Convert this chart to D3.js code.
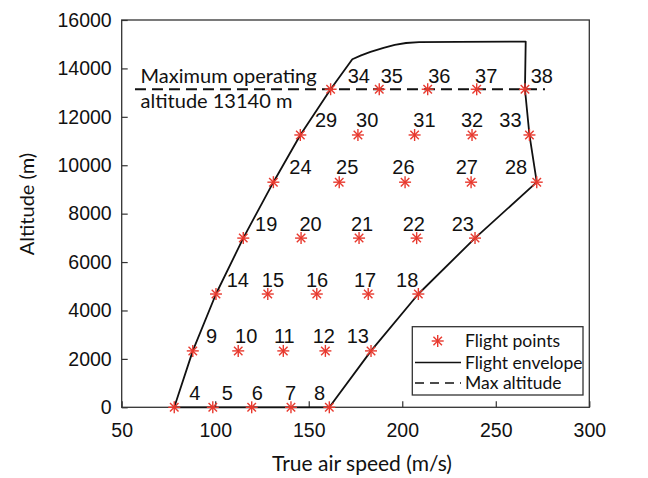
<!DOCTYPE html>
<html>
<head>
<meta charset="utf-8">
<script src="https://cdn.jsdelivr.net/npm/d3@7"></script>
<style>
  body { margin: 0; background: #fff; }
  svg { display: block; }
</style>
</head>
<body>
<svg id="chart" width="648" height="478"></svg>
<script>
// ---------------- data ----------------
const xTicks = [50, 100, 150, 200, 250, 300];
const yTicks = [0, 2000, 4000, 6000, 8000, 10000, 12000, 14000, 16000];

const pointLabels = ["4","5","6","7","8","9","10","11","12","13","14","15","16","17","18",
  "19","20","21","22","23","24","25","26","27","28","29","30","31","32","33","34","35","36","37","38"];
const pointSpeed = [
  78.1, 98.7, 119.5, 140.5, 161.0,
  88.0, 112.3, 136.4, 158.9, 183.3,
  100.4, 128.1, 154.3, 181.8, 208.6,
  115.0, 145.9, 176.9, 207.7, 238.9,
  131.1, 166.3, 201.5, 236.8, 271.9,
  145.5, 176.3, 206.6, 237.3, 268.0,
  161.7, 187.7, 213.6, 239.8, 265.6];
const pointAltitude = [
  0, 0, 0, 0, 0,
  2330, 2330, 2330, 2330, 2330,
  4680, 4680, 4680, 4680, 4680,
  6990, 6990, 6990, 6990, 6990,
  9300, 9300, 9300, 9300, 9300,
  11250, 11250, 11250, 11250, 11250,
  13140, 13140, 13140, 13140, 13140];
// where each number label sits (left edge speed, baseline altitude)
const labelSpeed = [
  86.1, 103.5, 119.5, 137.3, 152.8,
  95.1, 110.6, 131.4, 152.1, 170.3,
  106.1, 124.9, 148.5, 174.2, 196.7,
  121.3, 145.0, 172.6, 200.2, 226.4,
  139.6, 164.6, 194.7, 228.6, 254.9,
  153.3, 175.3, 205.9, 231.4, 251.9,
  170.8, 188.5, 213.9, 238.9, 268.7];
const labelAltitude = [
  302, 302, 302, 302, 302,
  2644, 2644, 2644, 2644, 2644,
  4957, 4957, 4957, 4957, 4957,
  7283, 7283, 7283, 7283, 7283,
  9638, 9638, 9638, 9638, 9638,
  11592, 11592, 11592, 11592, 11592,
  13385, 13385, 13385, 13385, 13385];

const envelopeSpeed = [78.1, 88.0, 100.4, 115.0, 131.1, 145.5, 161.7, 173.3, 178, 183, 190, 196, 202, 209, 230, 266,
  265.6, 268.0, 271.9, 238.9, 208.6, 183.3, 161.0, 78.1];
const envelopeAltitude = [0, 2330, 4680, 6990, 9300, 11250, 13140, 14380, 14540, 14680, 14850, 14970, 15050, 15090, 15100, 15110,
  13140, 11250, 9300, 6990, 4680, 2330, 0, 0];

const maxAltitude = 13140;
const maxAltitudeSpeedRange = [57.1, 276.3];
const annotationLines = ["Maximum operating", "altitude 13140 m"];
const annotationSpeed = 60.1;
const annotationAltitude = [13385, 12352];

const legendItems = ["Flight points", "Flight envelope", "Max altitude"];
const xTitle = "True air speed (m/s)";
const yTitle = "Altitude (m)";

// ---------------- drawing ----------------
const svg = d3.select("#chart");
const L = 121.7, R = 589.3, T = 20, B = 407.3;
const x = d3.scaleLinear().domain([50, 300]).range([L, R]);
const y = d3.scaleLinear().domain([0, 16000]).range([B, T]);

const red = "#e8392e";
const axisColor = "#333";
const sansCal = "Lato, 'Open Sans', sans-serif";
const sansAr = "'Liberation Sans', Arial, sans-serif";

// axes
const gx = svg.append("g").attr("transform", `translate(0,${B})`)
  .call(d3.axisBottom(x).tickValues(xTicks).tickSizeInner(-6).tickSizeOuter(0).tickPadding(16).tickFormat(d3.format("d")));
const gy = svg.append("g").attr("transform", `translate(${L},0)`)
  .call(d3.axisLeft(y).tickValues(yTicks).tickSizeInner(-6).tickSizeOuter(0).tickPadding(10).tickFormat(d3.format("d")));
[gx, gy].forEach(g => {
  g.select(".domain").remove();
  g.selectAll("line").attr("stroke", axisColor).attr("stroke-width", 1.2);
  g.selectAll("text").attr("fill", "#111").style("font-family", sansAr).style("font-size", "19.5px");
});
gx.selectAll("text").attr("dy", "0.71em");

// frame
svg.append("rect").attr("x", L).attr("y", T).attr("width", R - L).attr("height", B - T)
  .attr("fill", "none").attr("stroke", axisColor).attr("stroke-width", 1.3);

// max altitude dashed line
svg.append("line")
  .attr("x1", x(maxAltitudeSpeedRange[0])).attr("x2", x(maxAltitudeSpeedRange[1]))
  .attr("y1", y(maxAltitude)).attr("y2", y(maxAltitude))
  .attr("stroke", "#111").attr("stroke-width", 1.8).attr("stroke-dasharray", "11,6");

// envelope
const env = envelopeSpeed.map((s, i) => [s, envelopeAltitude[i]]);
svg.append("path")
  .attr("d", d3.line().x(d => x(d[0])).y(d => y(d[1]))(env))
  .attr("fill", "none").attr("stroke", "#111").attr("stroke-width", 1.8).attr("stroke-linejoin", "round");

// star marker
function star(g, cx, cy, r) {
  const angles = [0, 45, 90, 135];
  angles.forEach(a => {
    const rad = a * Math.PI / 180;
    g.append("line")
      .attr("x1", cx - r * Math.cos(rad)).attr("y1", cy - r * Math.sin(rad))
      .attr("x2", cx + r * Math.cos(rad)).attr("y2", cy + r * Math.sin(rad))
      .attr("stroke", red).attr("stroke-width", 1.4);
  });
}
const ptsG = svg.append("g");
pointSpeed.forEach((s, i) => star(ptsG, x(s), y(pointAltitude[i]), 6));

// number labels
svg.append("g").selectAll("text").data(pointLabels).join("text")
  .attr("x", (d, i) => x(labelSpeed[i]))
  .attr("y", (d, i) => y(labelAltitude[i]))
  .text(d => d)
  .attr("fill", "#111").style("font-family", sansAr).style("font-size", "20px");

// annotation
annotationLines.forEach((t, i) => {
  svg.append("text").attr("x", x(annotationSpeed)).attr("y", y(annotationAltitude[i]))
    .text(t).attr("fill", "#111").style("font-family", sansCal).style("font-size", "20px");
});

// axis titles
svg.append("text").attr("x", 362).attr("y", 471).attr("text-anchor", "middle")
  .text(xTitle).attr("fill", "#111").style("font-family", sansCal).style("font-size", "21px");
svg.append("text").attr("transform", "translate(34,204) rotate(-90)").attr("text-anchor", "middle")
  .text(yTitle).attr("fill", "#111").style("font-family", sansCal).style("font-size", "20px");

// legend
const lg = svg.append("g");
lg.append("rect").attr("x", 412.3).attr("y", 326.7).attr("width", 170.7).attr("height", 68.3)
  .attr("fill", "#fff").attr("stroke", axisColor).attr("stroke-width", 1.3);
const rowY = [341, 362.5, 383];
star(lg, 437.7, rowY[0], 6);
lg.append("line").attr("x1", 415).attr("x2", 461).attr("y1", rowY[1]).attr("y2", rowY[1])
  .attr("stroke", "#111").attr("stroke-width", 1.5);
lg.append("line").attr("x1", 415).attr("x2", 461).attr("y1", rowY[2]).attr("y2", rowY[2])
  .attr("stroke", "#111").attr("stroke-width", 1.5).attr("stroke-dasharray", "9,6");
legendItems.forEach((t, i) => {
  lg.append("text").attr("x", 465).attr("y", rowY[i]).attr("dy", "0.35em")
    .text(t).attr("fill", "#111").style("font-family", sansCal).style("font-size", "17.5px");
});
</script>
</body>
</html>
